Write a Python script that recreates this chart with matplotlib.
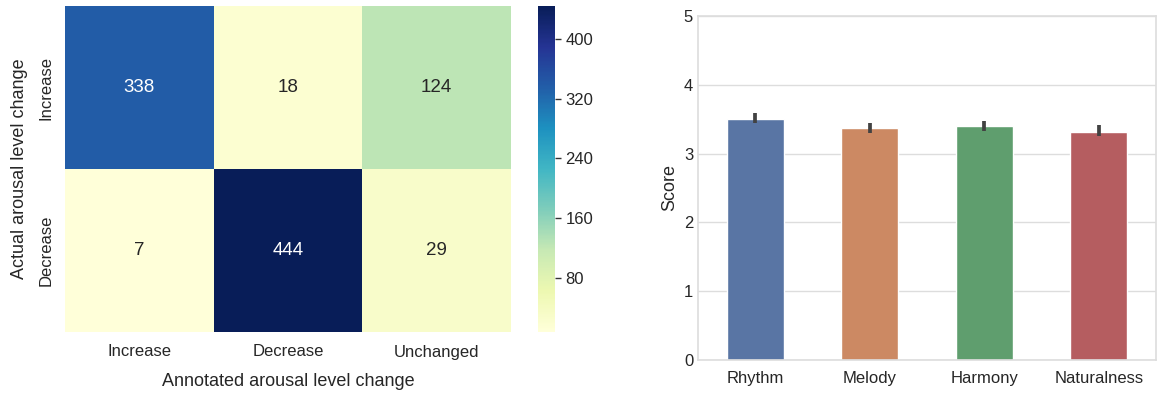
import matplotlib
matplotlib.use("Agg")
import matplotlib.pyplot as plt
import seaborn as sns
import numpy as np

# Data
actual_labels = ["Increase", "Decrease"]
annotated_labels = ["Increase", "Decrease", "Unchanged"]
confusion = [[338, 18, 124],
             [7, 444, 29]]
cbar_ticks = [80, 160, 240, 320, 400]

aspects = ["Rhythm", "Melody", "Harmony", "Naturalness"]
scores = [3.51, 3.37, 3.40, 3.32]
ci_low = [3.44, 3.30, 3.33, 3.25]
ci_high = [3.59, 3.45, 3.48, 3.41]

sns.set_theme(style="whitegrid")
plt.rcParams['font.family'] = ['Liberation Sans', 'DejaVu Sans']

fig = plt.figure(figsize=(11.76, 3.99), dpi=100)
W, H = 1176, 399
ax1 = fig.add_axes([65 / W, 1 - 332 / H, (511 - 65) / W, (332 - 6) / H])
cax = fig.add_axes([538 / W, 1 - 332 / H, 17 / W, (332 - 6) / H])
ax2 = fig.add_axes([698 / W, 1 - 360 / H, (1156 - 698) / W, (360 - 16) / H])

data = np.array(confusion)
sns.heatmap(data, ax=ax1, cbar_ax=cax, cmap="YlGnBu", annot=True, fmt="d",
            annot_kws={"fontsize": 13.5},
            xticklabels=annotated_labels, yticklabels=actual_labels,
            cbar_kws={"ticks": cbar_ticks})
ax1.set_xlabel("Annotated arousal level change", fontsize=13, labelpad=10)
ax1.set_ylabel("Actual arousal level change", fontsize=13, labelpad=8)
ax1.tick_params(axis="both", labelsize=12, length=0)
ax1.tick_params(axis="x", pad=9)
ax1.tick_params(axis="y", pad=8)
for t in ax1.get_yticklabels():
    t.set_rotation(90)
    t.set_va("center")
cax.tick_params(labelsize=12, length=4, width=1, color="#333333")
cax.yaxis.set_tick_params(which="both", left=False, right=True)
for s in cax.spines.values():
    s.set_visible(False)

palette = [sns.desaturate(c, 0.75) for c in sns.color_palette("deep")[:4]]
x = np.arange(len(aspects))
ax2.bar(x, scores, width=0.5, color=palette, zorder=2)
for xi, lo, hi in zip(x, ci_low, ci_high):
    ax2.plot([xi, xi], [lo, hi], color="#424242", lw=2.7, solid_capstyle="butt", zorder=3)
ax2.set_xticks(x)
ax2.set_xticklabels(aspects)
ax2.set_xlim(-0.5, len(aspects) - 0.5)
ax2.set_ylim(0, 5)
ax2.set_yticks([0, 1, 2, 3, 4, 5])
ax2.set_ylabel("Score", fontsize=13)
ax2.tick_params(axis="both", labelsize=12, length=0)
ax2.tick_params(axis="x", pad=8)
ax2.grid(axis="x", visible=False)
ax2.grid(axis="y", color="#dddddd", lw=1)
for s in ax2.spines.values():
    s.set_color("#dddddd")
    s.set_linewidth(1.2)

fig.savefig("out.png", dpi=100)
